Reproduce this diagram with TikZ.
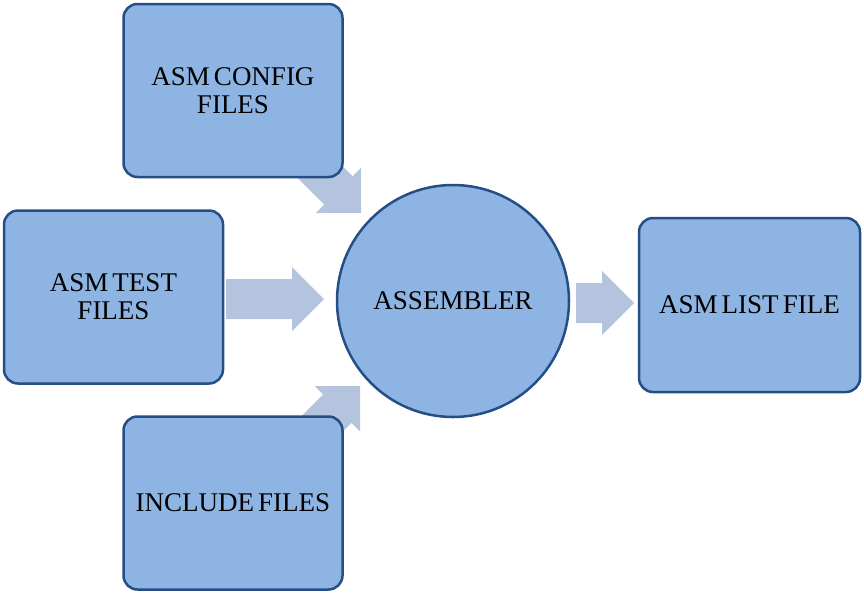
\documentclass[tikz,border=0pt]{standalone}
\usepackage{fontspec}
\setmainfont{Liberation Serif}
\usetikzlibrary{calc}
\definecolor{boxfill}{RGB}{142,180,227}
\definecolor{boxline}{RGB}{38,78,134}
\definecolor{arrowfill}{RGB}{180,196,222}
\newcommand\boxfont{\fontsize{27}{28}\selectfont\spaceskip=0.15em\relax}
\tikzset{
  filebox/.style={draw=boxline, fill=boxfill, line width=2.5pt, rounded corners=14pt,
    minimum width=219pt, minimum height=173pt, align=center, inner sep=0pt,
    font=\boxfont},
  asmcircle/.style={draw=boxline, fill=boxfill, line width=2.5pt, circle,
    minimum size=232pt, inner sep=0pt, font=\boxfont},
  blockarrow/.style={fill=arrowfill, draw=none}
}
\newcommand\blkarrow[3]{%
  \fill[blockarrow, shift={(#1)}, rotate=#2]
    (0,0) -- (-32,32) -- (-32,20) -- (-#3,20) -- (-#3,-20) -- (-32,-20) -- (-32,-32) -- cycle;}
\begin{document}
\begin{tikzpicture}[x=1pt, y=-1pt]
\useasboundingbox (0,0) rectangle (864,595);
% arrow tips
\coordinate (tipconfig) at (361,213);
\coordinate (tiptest) at (324,299);
\coordinate (tipinclude) at (360,386);
\coordinate (tiplist) at (634,303);
% block arrows (behind boxes)
\blkarrow{tipconfig}{-45}{100}
\blkarrow{tiptest}{0}{98}
\blkarrow{tipinclude}{45}{100}
\blkarrow{tiplist}{0}{58}
% nodes
\node[filebox] (config) at (233,90.5) {ASM CONFIG\\FILES};
\node[filebox] (test) at (113.5,297) {ASM TEST\\FILES};
\node[filebox] (include) at (233,503) {INCLUDE FILES};
\node[asmcircle] (asm) at (453,301) {ASSEMBLER};
\node[filebox, minimum width=221pt, minimum height=174pt] (list) at (749.5,305) {ASM LIST FILE};
\end{tikzpicture}
\end{document}
